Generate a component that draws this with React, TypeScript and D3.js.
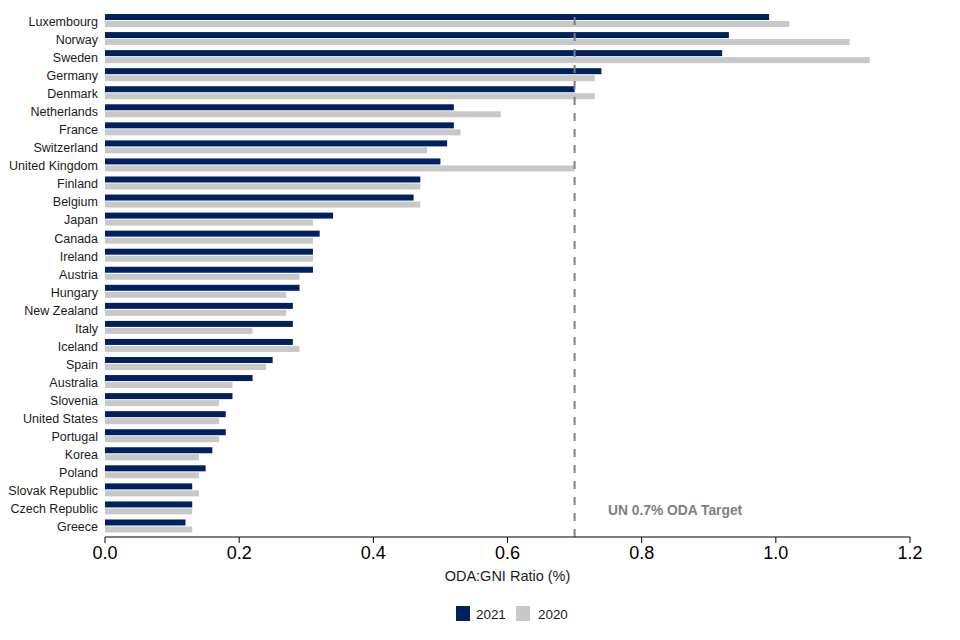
import React from 'react';
import * as d3 from 'd3';

const countries = [
  'Luxembourg', 'Norway', 'Sweden', 'Germany', 'Denmark', 'Netherlands', 'France',
  'Switzerland', 'United Kingdom', 'Finland', 'Belgium', 'Japan', 'Canada', 'Ireland',
  'Austria', 'Hungary', 'New Zealand', 'Italy', 'Iceland', 'Spain', 'Australia',
  'Slovenia', 'United States', 'Portugal', 'Korea', 'Poland', 'Slovak Republic',
  'Czech Republic', 'Greece',
];
const ratio2021 = [
  0.99, 0.93, 0.92, 0.74, 0.70, 0.52, 0.52, 0.51, 0.50, 0.47, 0.46, 0.34, 0.32, 0.31,
  0.31, 0.29, 0.28, 0.28, 0.28, 0.25, 0.22, 0.19, 0.18, 0.18, 0.16, 0.15, 0.13, 0.13, 0.12,
];
const ratio2020 = [
  1.02, 1.11, 1.14, 0.73, 0.73, 0.59, 0.53, 0.48, 0.70, 0.47, 0.47, 0.31, 0.31, 0.31,
  0.29, 0.27, 0.27, 0.22, 0.29, 0.24, 0.19, 0.17, 0.17, 0.17, 0.14, 0.14, 0.14, 0.13, 0.13,
];
const xTicks = [0, 0.2, 0.4, 0.6, 0.8, 1.0, 1.2];
const target = 0.7;

const NAVY = '#002060';
const GREY = '#c8c8c8';
const FONT = 'Arial, "Liberation Sans", sans-serif';

export default function App() {
  const x = d3.scaleLinear().domain([0, 1.2]).range([105, 910]);
  const y = d3.scaleBand<string>().domain(countries).range([11.5, 535]).paddingInner(0.28).paddingOuter(0.14);
  const bh = y.bandwidth() / 2;
  const axisY = 537;

  return (
    <svg width={960} height={640} style={{ position: 'absolute', left: 0, top: 0, background: '#fff' }} fontFamily={FONT}>
      {countries.map((c, i) => {
        const y0 = y(c)!;
        return (
          <g key={c}>
            <rect x={x(0)} y={y0} width={x(ratio2021[i]) - x(0)} height={bh - 0.5} fill={NAVY} />
            <rect x={x(0)} y={y0 + bh + 0.5} width={x(ratio2020[i]) - x(0)} height={bh - 0.5} fill={GREY} />
            <text x={98} y={y0 + bh + 1} dy="0.35em" textAnchor="end" fontSize={12.5} fill="#1a1a1a">{c}</text>
          </g>
        );
      })}
      <line x1={x(target)} x2={x(target)} y1={17} y2={axisY} stroke="#7f7f7f" strokeWidth={2} strokeDasharray="8,8" />
      <text x={608} y={510} dy="0.35em" fontSize={13.8} fontWeight="bold" fill="#7f7f7f">UN 0.7% ODA Target</text>
      <line x1={x(0)} x2={x(1.2)} y1={axisY} y2={axisY} stroke="#000" strokeWidth={1} />
      {xTicks.map((t) => (
        <g key={t}>
          <line x1={x(t)} x2={x(t)} y1={axisY} y2={axisY + 6} stroke="#000" />
          <text x={x(t)} y={559} textAnchor="middle" fontSize={18} fill="#000">{t.toFixed(1)}</text>
        </g>
      ))}
      <text x={(x(0) + x(1.2)) / 2} y={581} textAnchor="middle" fontSize={14.5} fill="#1a1a1a">ODA:GNI Ratio (%)</text>
      <rect x={456} y={606} width={14} height={15} fill={NAVY} />
      <text x={476} y={619} fontSize={13.4} fill="#1a1a1a">2021</text>
      <rect x={516} y={606} width={14} height={15} fill={GREY} />
      <text x={538} y={619} fontSize={13.4} fill="#1a1a1a">2020</text>
    </svg>
  );
}
